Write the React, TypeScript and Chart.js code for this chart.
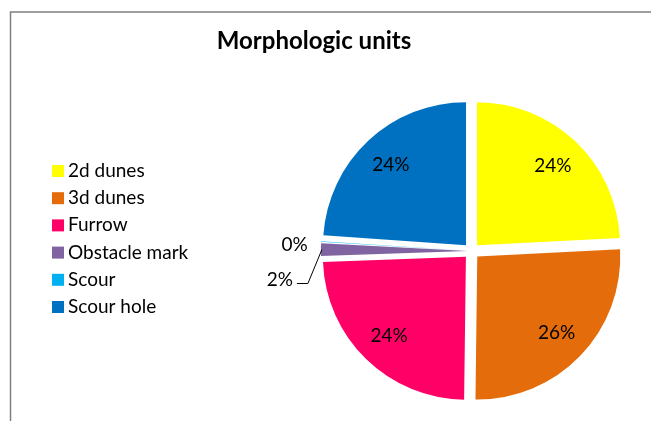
import React, { useEffect, useRef } from "react";
import { Chart, registerables } from "chart.js";

Chart.register(...registerables);

const chartTitle = "Morphologic units";
const categories = ["2d dunes", "3d dunes", "Furrow", "Obstacle mark", "Scour", "Scour hole"];
const shares = [24.2, 26.0, 24.2, 1.5, 0.2, 23.9];
const colors = ["#FFFF00", "#E46C0A", "#FF0066", "#8064A2", "#00B0F0", "#0070C0"];
const explode = [32, 32, 32, 16, 16, 32];

const FONT = "Lato, 'Open Sans', sans-serif";

const framePlugin = {
  id: "frameTitleLegend",
  beforeDraw(chart: any) {
    const ctx = chart.ctx;
    ctx.save();
    ctx.fillStyle = "#ffffff";
    ctx.fillRect(0, 0, chart.width, chart.height);
    ctx.strokeStyle = "#808080";
    ctx.lineWidth = 1.5;
    ctx.beginPath();
    ctx.moveTo(10.5, chart.height + 5);
    ctx.lineTo(10.5, 12);
    ctx.lineTo(chart.width + 5, 12);
    ctx.stroke();

    // title
    ctx.fillStyle = "#000";
    ctx.font = `bold 24px ${FONT}`;
    ctx.textAlign = "center";
    ctx.textBaseline = "alphabetic";
    ctx.fillText(chartTitle, 314, 49);

    // legend
    const labels = chart.data.labels as string[];
    const bg = chart.data.datasets[0].backgroundColor as string[];
    ctx.font = `19px ${FONT}`;
    ctx.textAlign = "left";
    labels.forEach((lab, i) => {
      const base = 177 + i * 27.2;
      ctx.fillStyle = bg[i];
      ctx.fillRect(52, base - 12, 12, 12);
      ctx.fillStyle = "#000";
      ctx.fillText(lab, 68, base);
    });
    ctx.restore();
  },
};

const labelPlugin = {
  id: "pieLabels",
  afterDatasetsDraw(chart: any) {
    const ctx = chart.ctx;
    const meta = chart.getDatasetMeta(0);
    const data = chart.data.datasets[0].data as number[];
    const total = data.reduce((a, b) => a + b, 0);
    ctx.save();
    ctx.font = `19px ${FONT}`;
    ctx.fillStyle = "#000";
    ctx.textBaseline = "middle";
    const outside: any[] = [];
    meta.data.forEach((arc: any, i: number) => {
      const p = arc.getProps(["x", "y", "startAngle", "endAngle", "outerRadius", "circumference"], true);
      const off = (arc.options.offset || 0) / 4;
      const mid = (p.startAngle + p.endAngle) / 2;
      const txt = Math.round((data[i] / total) * 100) + "%";
      if (p.circumference > 0.3) {
        const d = off + p.outerRadius * 0.77;
        ctx.textAlign = "center";
        ctx.fillText(txt, p.x + Math.cos(mid) * d, p.y + Math.sin(mid) * d);
      } else {
        const fix = 1 - Math.sin(Math.min(Math.PI, p.circumference));
        const r = p.outerRadius + off * fix;
        const ax = p.x + Math.cos(mid) * (off + r);
        const ay = p.y + Math.sin(mid) * (off + r);
        outside.push({ txt, ax, ay, ly: ay + 3 });
      }
    });
    outside.sort((a, b) => a.ay - b.ay);
    for (let k = 1; k < outside.length; k++) {
      if (outside[k].ly < outside[k - 1].ly + 35) outside[k].ly = outside[k - 1].ly + 35;
    }
    outside.forEach((o) => {
      ctx.textAlign = "right";
      const moved = Math.abs(o.ly - (o.ay + 3)) > 5;
      if (!moved) {
        ctx.fillText(o.txt, o.ax - 13, o.ly);
      } else {
        const right = o.ax - 28;
        ctx.fillText(o.txt, right, o.ly);
        ctx.strokeStyle = "#000";
        ctx.lineWidth = 1;
        ctx.beginPath();
        ctx.moveTo(o.ax + 1, o.ay);
        ctx.lineTo(right + 15, o.ly + 4);
        ctx.lineTo(right + 4, o.ly + 4);
        ctx.stroke();
      }
    });
    ctx.restore();
  },
};

export default function App() {
  const ref = useRef<HTMLCanvasElement | null>(null);
  useEffect(() => {
    if (!ref.current) return;
    const chart = new Chart(ref.current, {
      type: "pie",
      data: {
        labels: categories,
        datasets: [
          {
            data: shares,
            backgroundColor: colors,
            borderWidth: 0,
            offset: explode,
          },
        ],
      },
      options: {
        responsive: false,
        animation: false,
        events: [],
        radius: 143,
        layout: { padding: { left: 302, right: 10, top: 86, bottom: 5 } },
        plugins: {
          legend: { display: false },
          title: { display: false },
          tooltip: { enabled: false },
        },
      } as any,
      plugins: [framePlugin, labelPlugin],
    });
    return () => chart.destroy();
  }, []);
  return (
    <div style={{ position: "fixed", left: 0, top: 0, width: 651, height: 421, background: "#fff" }}>
      <canvas ref={ref} width={651} height={421} style={{ display: "block" }} />
    </div>
  );
}
